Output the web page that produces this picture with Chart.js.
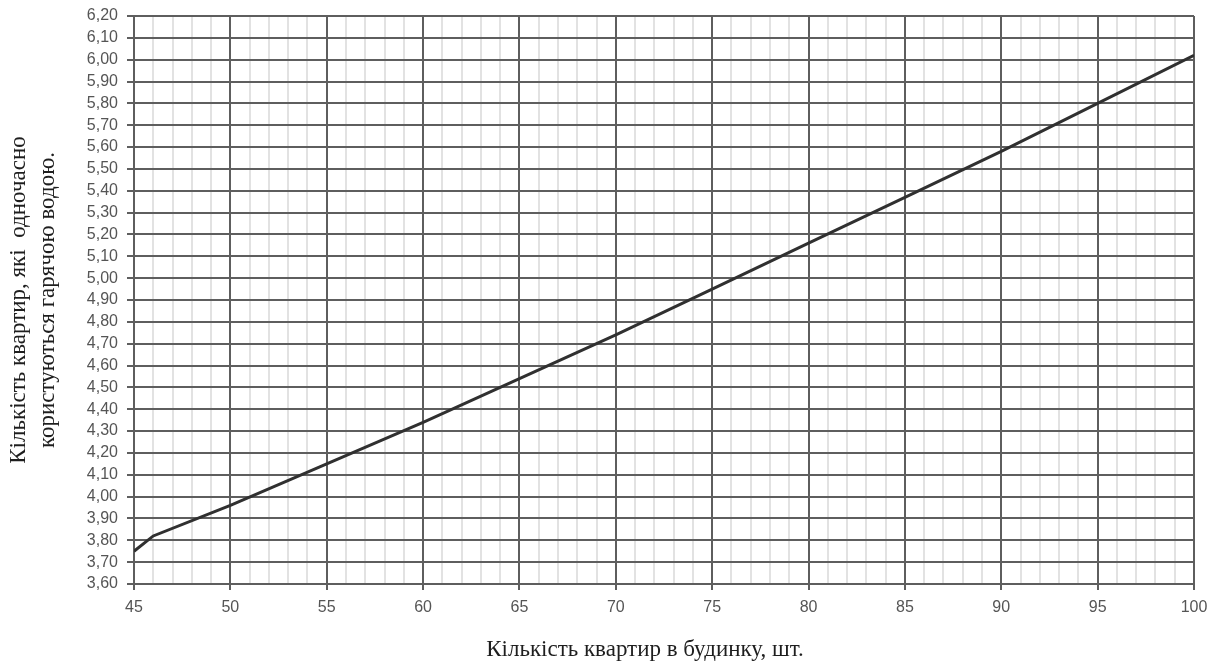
<!DOCTYPE html>
<html lang="uk">
<head>
<meta charset="utf-8">
<title>Кількість квартир, які одночасно користуються гарячою водою</title>
<script src="https://cdn.jsdelivr.net/npm/chart.js@4/dist/chart.umd.min.js"></script>
<style>
  html, body { margin: 0; padding: 0; background: #ffffff; }
  #wrap { width: 1209px; height: 668px; }
</style>
</head>
<body>
<div id="wrap"><canvas id="chart" width="1209" height="668"></canvas></div>
<script>
// Кількість квартир у будинку (вісь X)
const flats = [45, 46, 50, 55, 60, 65, 70, 75, 80, 85, 90, 95, 100];
// Кількість квартир, які одночасно користуються гарячою водою (вісь Y)
const simultaneous = [3.75, 3.82, 3.96, 4.15, 4.34, 4.54, 4.74, 4.95, 5.16, 5.37, 5.58, 5.80, 6.02];

// Підписи поділок
const xTickLabels = ['45', '50', '55', '60', '65', '70', '75', '80', '85', '90', '95', '100'];
const yTickLabels = ['3,60', '3,70', '3,80', '3,90', '4,00', '4,10', '4,20', '4,30', '4,40',
  '4,50', '4,60', '4,70', '4,80', '4,90', '5,00', '5,10', '5,20', '5,30', '5,40',
  '5,50', '5,60', '5,70', '5,80', '5,90', '6,00', '6,10', '6,20'];

const xTitle = 'Кількість квартир в будинку, шт.';
const yTitle = ['Кількість квартир, які  одночасно', 'користуються гарячою водою.'];

const DARK = '#5e5e5e';
const LIGHT = '#e2e2e2';
const TICK_FONT = { family: '"Liberation Sans", Arial, sans-serif', size: 16 };
const TITLE_FONT = { family: '"Liberation Serif", "Times New Roman", serif', size: 23, lineHeight: 1.26 };

const isMajorX = v => Math.round(v) % 5 === 0;

// Підпис осі X, зміщений трохи ліворуч від центру поля графіка
const xTitlePlugin = {
  id: 'xTitle',
  afterDraw(chart) {
    const ctx = chart.ctx;
    ctx.save();
    ctx.font = `${TITLE_FONT.size}px ${TITLE_FONT.family}`;
    ctx.fillStyle = '#1e1e1e';
    ctx.textAlign = 'center';
    ctx.textBaseline = 'middle';
    ctx.fillText(xTitle, 645, 650);
    ctx.restore();
  }
};

new Chart(document.getElementById('chart'), {
  type: 'scatter',
  data: {
    datasets: [{
      data: flats.map((x, i) => ({ x, y: simultaneous[i] })),
      showLine: true,
      borderColor: '#303030',
      borderWidth: 3,
      pointRadius: 0,
      pointHoverRadius: 0,
      tension: 0
    }]
  },
  options: {
    responsive: false,
    animation: false,
    layout: { padding: { left: 0, right: 15, top: 16, bottom: 0 } },
    plugins: {
      legend: { display: false },
      tooltip: { enabled: false }
    },
    scales: {
      x: {
        type: 'linear',
        min: 45,
        max: 100,
        afterFit(scale) {
          scale.height = 84;
          scale.paddingLeft = 0;
          scale.paddingRight = 0;
        },
        ticks: {
          stepSize: 1,
          autoSkip: false,
          maxRotation: 0,
          padding: 8,
          color: '#555555',
          font: TICK_FONT,
          callback: v => isMajorX(v) ? xTickLabels[(Math.round(v) - 45) / 5] : ''
        },
        grid: {
          color: c => isMajorX(c.tick.value) ? DARK : LIGHT,
          lineWidth: 2,
          tickLength: 6,
          tickColor: c => isMajorX(c.tick.value) ? DARK : 'rgba(0,0,0,0)',
          tickWidth: 2
        },
        border: { color: DARK, width: 2 }
      },
      y: {
        type: 'linear',
        min: 3.6,
        max: 6.2,
        afterFit(scale) {
          scale.width = 134;
          scale.paddingTop = 0;
          scale.paddingBottom = 0;
        },
        ticks: {
          stepSize: 0.1,
          autoSkip: false,
          padding: 9,
          color: '#555555',
          font: TICK_FONT,
          callback: (v) => yTickLabels[Math.round((v - 3.6) * 10)]
        },
        grid: {
          color: DARK,
          lineWidth: 2,
          tickLength: 7,
          tickColor: DARK,
          tickWidth: 2
        },
        border: { color: DARK, width: 2 },
        title: {
          display: true,
          text: yTitle,
          color: '#1e1e1e',
          font: TITLE_FONT,
          padding: { top: 4, bottom: 0 }
        }
      }
    }
  },
  plugins: [xTitlePlugin]
});
</script>
</body>
</html>
